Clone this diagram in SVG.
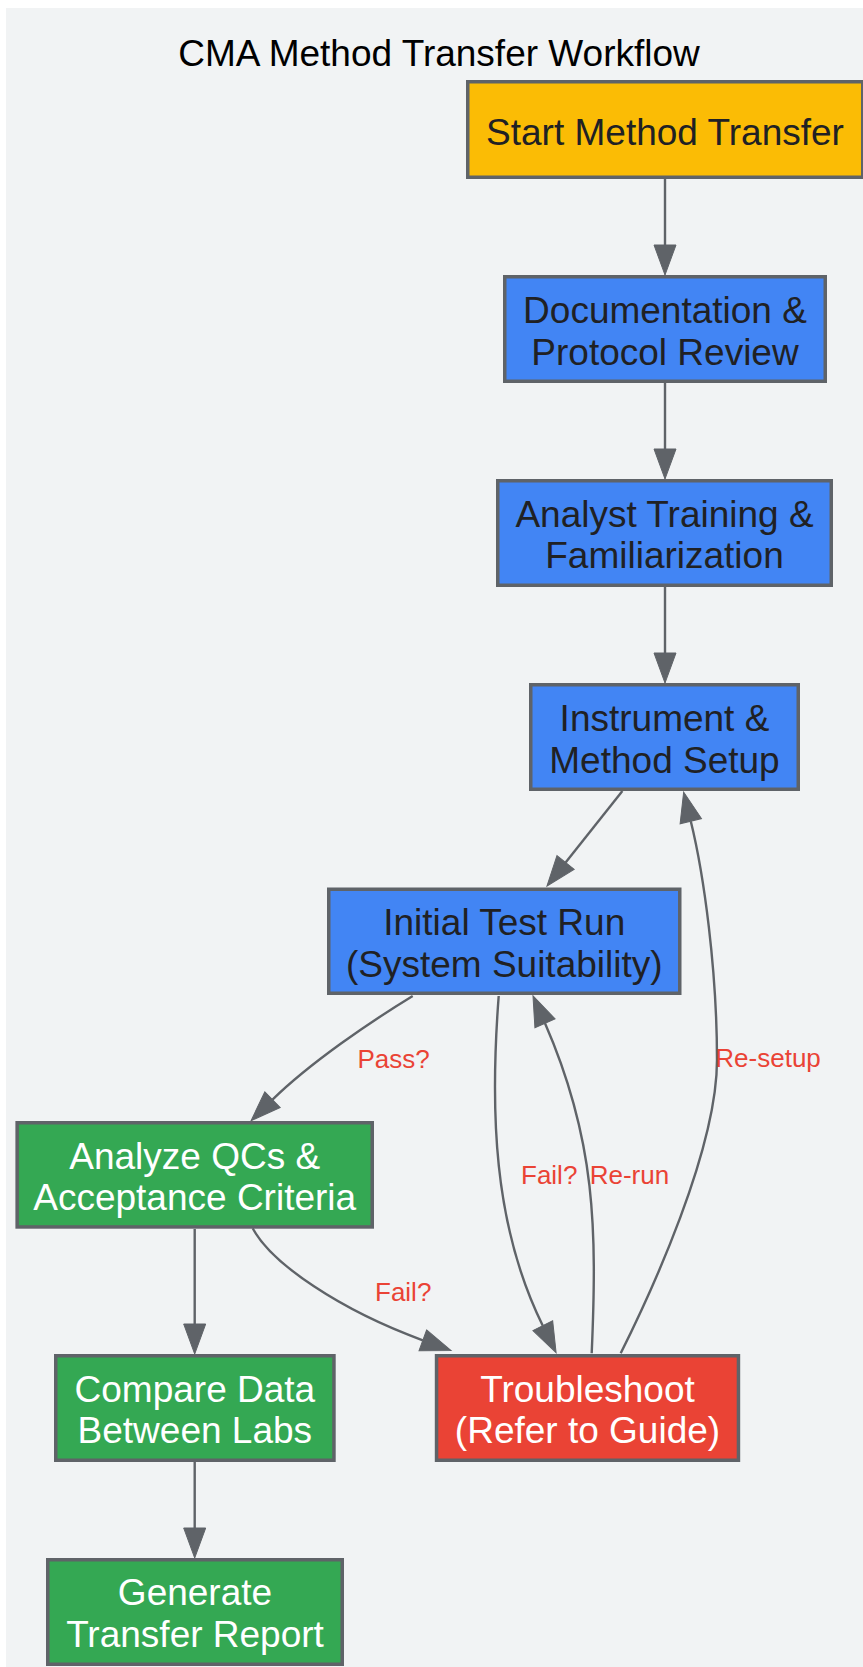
<svg xmlns="http://www.w3.org/2000/svg" width="863" height="1667" viewBox="0 0 863 1667">
<style>
.bg{fill:#F1F3F4}
.node rect{stroke:#5F6368;stroke-width:3.5}
.blue rect{fill:#4285F4}
.yellow rect{fill:#FBBC05}
.green rect{fill:#34A853}
.red rect{fill:#EA4335}
.node text{font-family:"Liberation Sans",Arial,sans-serif;font-size:37px;text-anchor:middle}
.blue text,.yellow text{fill:#202124}
.green text,.red text{fill:#FFFFFF}
.title{font-family:"Liberation Sans",Arial,sans-serif;font-size:37px;text-anchor:middle;fill:#000000}
.edge{fill:none;stroke:#5F6368;stroke-width:2.4;marker-end:url(#arrow)}
.elabel{font-family:"Liberation Sans",Arial,sans-serif;font-size:26px;fill:#EA4335}
</style>
<defs>
<marker id="arrow" markerUnits="userSpaceOnUse" markerWidth="31" markerHeight="23" refX="0" refY="11" orient="auto" overflow="visible">
<path d="M0,0 L30,11 L0,22 z" fill="#5F6368" stroke="#5F6368" stroke-width="1"/>
</marker>
</defs>
<rect class="bg" x="6" y="8" width="857" height="1659"/>
<text class="title" x="439" y="65.5">CMA Method Transfer Workflow</text>

<g id="connectors">
<path class="edge" d="M665,179 L665,245"/>
<path class="edge" d="M665,383 L665,449"/>
<path class="edge" d="M665,587 L665,653"/>
<path class="edge" d="M622.4,791 L565.6,862.5"/>
<path class="edge" d="M412.7,996 C370,1022 310,1063 272.5,1099.7"/>
<path class="edge" d="M498.7,996 C490,1110 493,1225 542.8,1325.7"/>
<path class="edge" d="M591.7,1353.3 C597,1230 596,1140 545,1023.3"/>
<path class="edge" d="M620.7,1353.3 C650.7,1293.3 717,1150 717,1060 C717,970 704,875 690.8,821.2"/>
<path class="edge" d="M252.7,1228.3 C272,1264 340,1310 422.8,1340.3"/>
<path class="edge" d="M194.7,1229 L194.7,1324"/>
<path class="edge" d="M194.7,1462 L194.7,1528"/>
<text class="elabel" x="357.5" y="1067.7">Pass?</text>
<text class="elabel" x="521" y="1184">Fail?</text>
<text class="elabel" x="589.7" y="1184">Re-run</text>
<text class="elabel" x="715.3" y="1067.3">Re-setup</text>
<text class="elabel" x="375" y="1300.7">Fail?</text>
</g>

<g id="start" class="node yellow">
<rect x="467.75" y="81.75" width="395" height="95.5"/>
<text x="665" y="145">Start Method Transfer</text>
</g>
<g id="documentation" class="node blue">
<rect x="504.75" y="276.75" width="320.5" height="104.5"/>
<text x="665" y="323.3">Documentation &amp;</text>
<text x="665" y="365">Protocol Review</text>
</g>
<g id="training" class="node blue">
<rect x="497.75" y="480.75" width="333.5" height="104.5"/>
<text x="664.5" y="526.7">Analyst Training &amp;</text>
<text x="664.5" y="568.3">Familiarization</text>
</g>
<g id="setup" class="node blue">
<rect x="530.75" y="684.75" width="267.5" height="104.5"/>
<text x="664.5" y="730.8">Instrument &amp;</text>
<text x="664.5" y="772.8">Method Setup</text>
</g>
<g id="testrun" class="node blue">
<rect x="328.75" y="889.25" width="351" height="104"/>
<text x="504.25" y="935">Initial Test Run</text>
<text x="504.25" y="976.7">(System Suitability)</text>
</g>
<g id="analyze" class="node green">
<rect x="17.15" y="1122.75" width="355.1" height="104.2"/>
<text x="194.7" y="1168.6">Analyze QCs &amp;</text>
<text x="194.7" y="1210.3">Acceptance Criteria</text>
</g>
<g id="compare" class="node green">
<rect x="55.75" y="1355.75" width="278.2" height="104.5"/>
<text x="194.85" y="1401.7">Compare Data</text>
<text x="194.85" y="1443.4">Between Labs</text>
</g>
<g id="troubleshoot" class="node red">
<rect x="436.55" y="1355.75" width="301.9" height="104.5"/>
<text x="587.5" y="1401.7">Troubleshoot</text>
<text x="587.5" y="1443.4">(Refer to Guide)</text>
</g>
<g id="report" class="node green">
<rect x="47.75" y="1559.75" width="294.5" height="104.5"/>
<text x="195" y="1605">Generate</text>
<text x="195" y="1647">Transfer Report</text>
</g>
</svg>
